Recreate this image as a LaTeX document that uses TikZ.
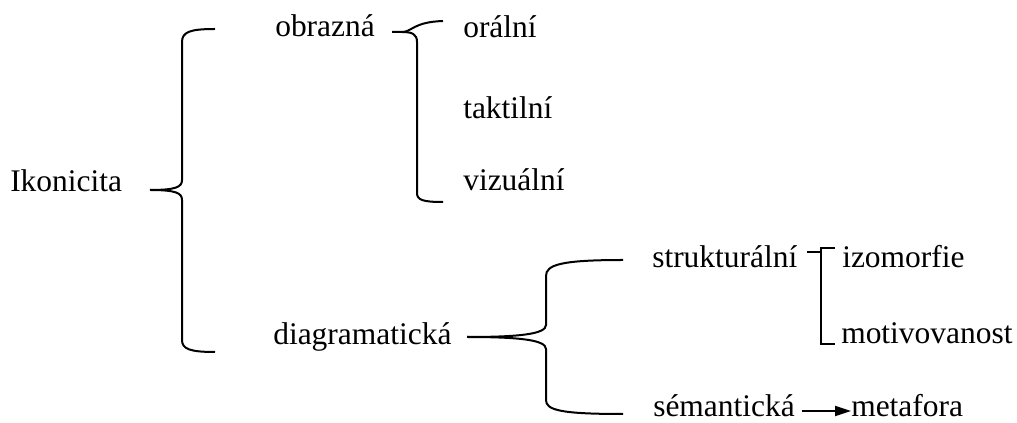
\documentclass[tikz,border=0pt]{standalone}
\usepackage{fontspec}
\setmainfont{Liberation Serif}
\usetikzlibrary{arrows.meta}
\begin{document}
\begin{tikzpicture}[x=0.75pt,y=-0.75pt,
  term/.style={anchor=base west,inner sep=0pt,font=\fontsize{23.6}{28}\selectfont},
  brace/.style={line width=1.5pt}]
\useasboundingbox (0,0) rectangle (1017,423);

\node[term] (ikon) at (10,192) {Ikonicita};
\node[term] (obraz) at (275,37) {obrazná};
\node[term] (diag) at (273,345) {diagramatická};
\node[term] (oral) at (463,38) {orální};
\node[term] (takt) at (463,119) {taktilní};
\node[term] (viz) at (463,191) {vizuální};
\node[term] (struk) at (652,268) {strukturální};
\node[term] (sem) at (653,417) {sémantická};
\node[term] (izo) at (842,268) {izomorfie};
\node[term] (motiv) at (841,344) {motivovanost};
\node[term] (meta) at (851,417) {metafora};

% Ikonicita
\draw[brace]
(215,29) .. controls (190,29) and (182,32) .. (182,42) -- (182,180)
.. controls (182,187) and (176,190) .. (150,190);
\draw[brace]
(150,190) .. controls (176,190) and (182,193) .. (182,200) -- (182,340)
.. controls (182,349) and (190,352) .. (215,352);

% obrazna
\draw[brace]
(392,32) -- (402,32) .. controls (412,32) and (413,22) .. (443,21);
\draw[brace]
(402,32) .. controls (412,32) and (417,34) .. (417,42) -- (417,193)
.. controls (417,200) and (423,202) .. (443,202);

% diagramaticka
\draw[brace]
(467,337) .. controls (520,337) and (546,334) .. (546,325) -- (546,276)
.. controls (546,265) and (560,260) .. (623,260);
\draw[brace]
(467,337) .. controls (520,337) and (546,340) .. (546,349) -- (546,400)
.. controls (546,410) and (560,414) .. (623,414);

% strukturalni
\draw[line width=2.2pt] (807,252) -- (822,252);
\draw[brace] (835,248) -- (821,248) -- (821,344) -- (835,344);

\draw[brace,-{Triangle[length=12pt,width=7.5pt]}]
([xshift=5pt,yshift=4.5pt]sem.base east) -- ([yshift=4.5pt]meta.base west);
\end{tikzpicture}
\end{document}
